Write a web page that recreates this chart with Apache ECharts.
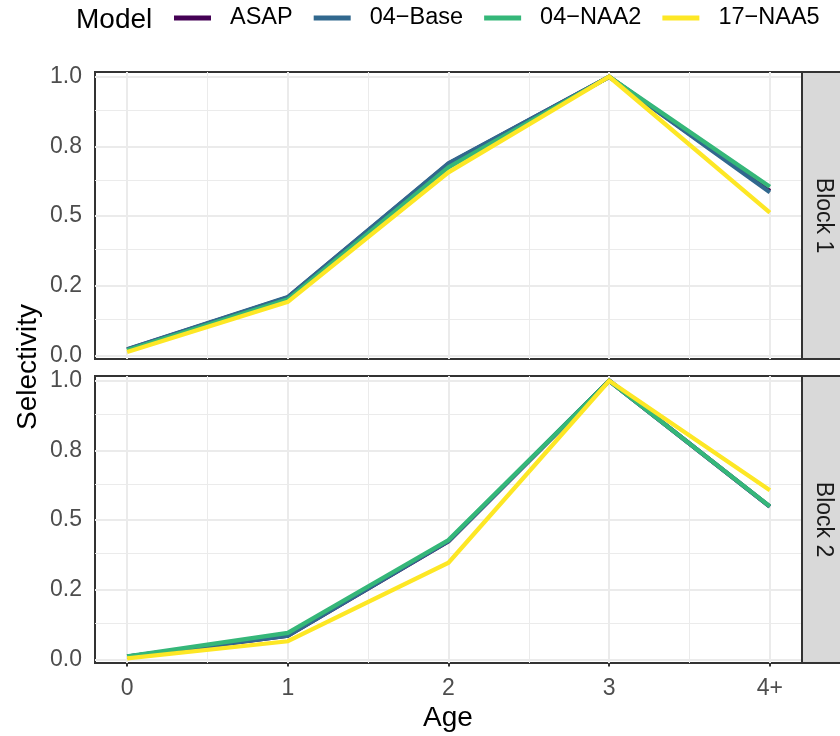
<!DOCTYPE html>
<html>
<head>
<meta charset="utf-8">
<script src="https://cdn.jsdelivr.net/npm/echarts@6/dist/echarts.min.js"></script>
<style>html,body{margin:0;padding:0;background:#fff}#c{width:840px;height:736px}</style>
</head>
<body>
<div id="c"></div>
<script>
// ---- data ----
const ages = ['0', '1', '2', '3', '4+'];
const models = ['ASAP', '04\u2212Base', '04\u2212NAA2', '17\u2212NAA5'];
const blocks = ['Block 1', 'Block 2'];
const yTickValues = [0, 0.25, 0.5, 0.75, 1];
const yTickLabels = ['0.0', '0.2', '0.5', '0.8', '1.0'];

const block1ASAP = [0.021, 0.208, 0.688, 1.0, 0.590];
const block1Base = [0.022, 0.209, 0.689, 1.0, 0.585];
const block1NAA2 = [0.018, 0.201, 0.675, 1.0, 0.605];
const block1NAA5 = [0.012, 0.192, 0.657, 1.0, 0.512];
const block2ASAP = [0.010, 0.085, 0.424, 1.0, 0.548];
const block2Base = [0.010, 0.085, 0.425, 1.0, 0.548];
const block2NAA2 = [0.011, 0.095, 0.428, 1.0, 0.549];
const block2NAA5 = [0.004, 0.065, 0.347, 1.0, 0.607];

const blockData = [
  [block1ASAP, block1Base, block1NAA2, block1NAA5],
  [block2ASAP, block2Base, block2NAA2, block2NAA5]
];
const colors = ['#440154', '#31688E', '#35B779', '#FDE725'];

// ---- layout ----
const FONT = '"Liberation Sans", Arial, Helvetica, sans-serif';
const panelLeft = 95, panelWidth = 707;
const panelTops = [72, 376], panelHeight = 287;
const yMin = -0.013, yMax = 1.017;

const grids = panelTops.map(t => ({
  left: panelLeft, top: t, width: panelWidth, height: panelHeight,
  show: true, borderColor: '#333333', borderWidth: 2, backgroundColor: '#ffffff'
}));

const xAxes = [0, 1].map(i => ({
  type: 'value', gridIndex: i, min: -0.2, max: 4.2,
  splitLine: { show: false }, axisLine: { show: false },
  axisTick: { show: i === 1, length: 7, lineStyle: { color: '#333333', width: 2 }, customValues: [0, 1, 2, 3, 4] },
  axisLabel: {
    show: i === 1, customValues: [0, 1, 2, 3, 4], margin: 14,
    color: '#4D4D4D', fontSize: 23, fontFamily: FONT,
    formatter: v => ages[Math.round(v)]
  }
}));

const yAxes = [0, 1].map(i => ({
  type: 'value', gridIndex: i, min: yMin, max: yMax,
  splitLine: { show: false }, axisLine: { show: false },
  axisTick: { show: true, length: 7, lineStyle: { color: '#333333', width: 2 }, customValues: yTickValues },
  axisLabel: {
    customValues: yTickValues, margin: 13,
    color: '#4D4D4D', fontSize: 23, fontFamily: FONT,
    formatter: v => { const k = yTickValues.findIndex(t => Math.abs(t - v) < 1e-9); return k >= 0 ? yTickLabels[k] : ''; }
  }
}));

function gridLines() {
  const d = [];
  for (let k = 0; k <= 8; k++) {
    d.push({ xAxis: k / 2, lineStyle: { color: '#EBEBEB', width: k % 2 === 0 ? 2 : 1, type: 'solid' } });
  }
  for (let k = 0; k <= 8; k++) {
    d.push({ yAxis: k / 8, lineStyle: { color: '#EBEBEB', width: k % 2 === 0 ? 2 : 1, type: 'solid' } });
  }
  return d;
}

const series = [];
[0, 1].forEach(b => {
  series.push({
    type: 'line', name: '_grid' + b, xAxisIndex: b, yAxisIndex: b, data: [], z: 1,
    silent: true, animation: false,
    markLine: { silent: true, z: 1, zlevel: 0, symbol: ['none', 'none'], label: { show: false }, animation: false, data: gridLines() }
  });
  models.forEach((m, mi) => {
    series.push({
      type: 'line', name: m, xAxisIndex: b, yAxisIndex: b, z: 6 + mi,
      showSymbol: false, symbol: 'none', animation: false,
      lineStyle: { color: colors[mi], width: 4.3, join: 'miter' },
      itemStyle: { color: colors[mi] },
      data: blockData[b][mi].map((v, ai) => [ai, v])
    });
  });
});

const graphics = [];
blocks.forEach((bl, b) => {
  graphics.push({
    type: 'rect', z: 10,
    shape: { x: panelLeft + panelWidth, y: panelTops[b], width: 44, height: panelHeight },
    style: { fill: '#D9D9D9', stroke: '#333333', lineWidth: 2 }
  });
  graphics.push({
    type: 'text', z: 11, x: 823, y: panelTops[b] + panelHeight / 2, rotation: -Math.PI / 2,
    style: { text: bl, fill: '#1A1A1A', font: '23px ' + FONT, align: 'center', verticalAlign: 'middle' }
  });
});
graphics.push({
  type: 'text', z: 11, x: 28, y: 367, rotation: Math.PI / 2,
  style: { text: 'Selectivity', fill: '#000000', font: '28px ' + FONT, align: 'center', verticalAlign: 'middle' }
});
graphics.push({
  type: 'text', z: 11, x: 448, y: 718,
  style: { text: 'Age', fill: '#000000', font: '28px ' + FONT, align: 'center', verticalAlign: 'middle' }
});
graphics.push({
  type: 'text', z: 11, x: 76, y: 20,
  style: { text: 'Model', fill: '#000000', font: '28px ' + FONT, align: 'left', verticalAlign: 'middle' }
});

const chart = echarts.init(document.getElementById('c'), null, { renderer: 'canvas' });
chart.setOption({
  animation: false,
  backgroundColor: '#ffffff',
  grid: grids,
  xAxis: xAxes,
  yAxis: yAxes,
  legend: {
    data: models, left: 174, top: 6, padding: 0, icon: 'rect', itemWidth: 37, itemHeight: 5, itemGap: 21,
    selectedMode: false,
    textStyle: { fontSize: 23.5, color: '#000000', fontFamily: FONT, padding: [0, 0, 0, 14] }
  },
  graphic: graphics,
  series: series
});
</script>
</body>
</html>
